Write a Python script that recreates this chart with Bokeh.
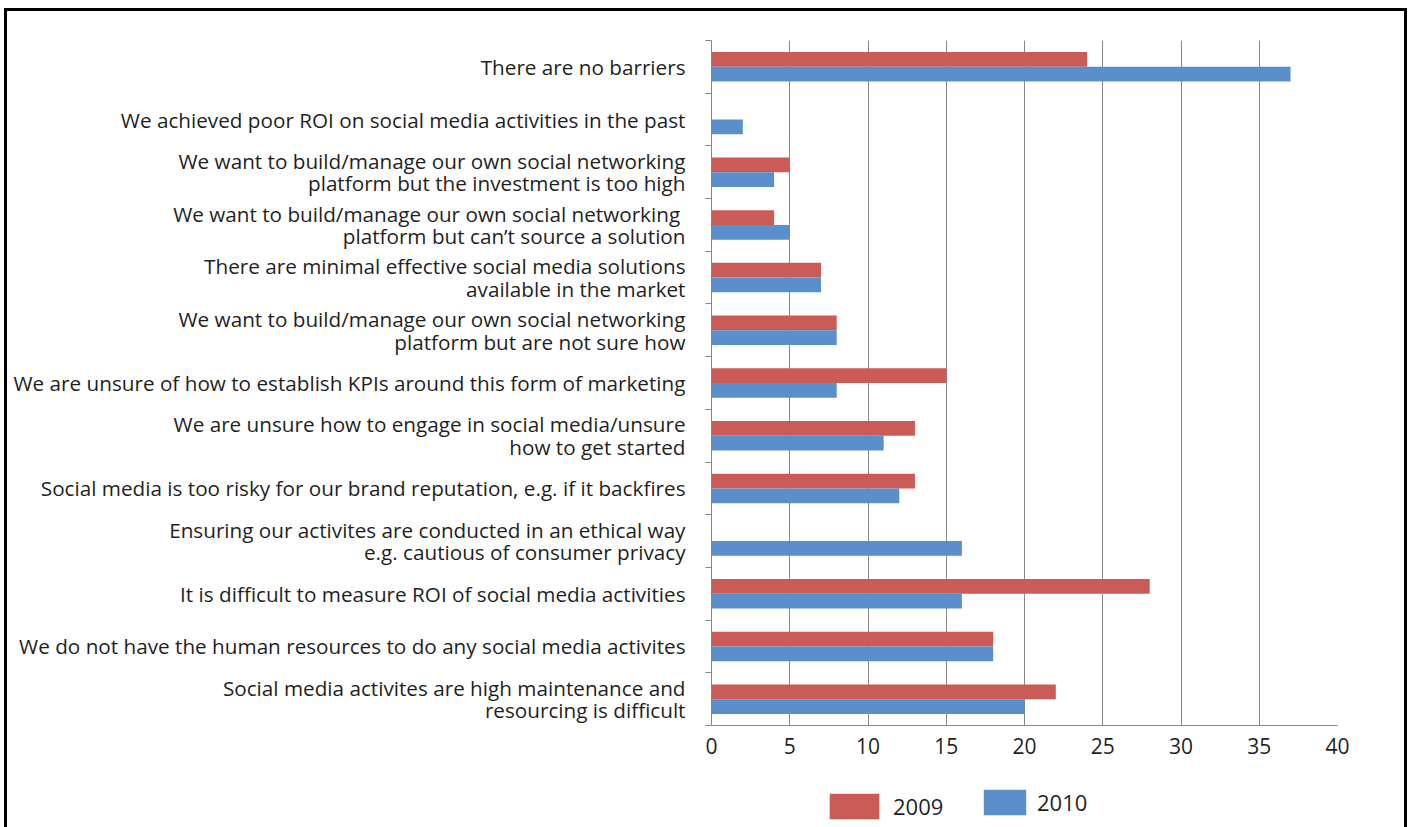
from bokeh.plotting import figure
from bokeh.layouts import column
from bokeh.models import Range1d, FixedTicker, Legend, LegendItem, ColumnDataSource, InlineStyleSheet
from bokeh.embed import file_html
from bokeh.resources import INLINE

categories = [
    "There are no barriers",
    "We achieved poor ROI on social media activities in the past",
    "We want to build/manage our own social networking\nplatform but the investment is too high",
    "We want to build/manage our own  social networking\nplatform but can\u2019t source a solution",
    "There are minimal effective social media solutions\navailable in the market",
    "We want to build/manage our own social networking\nplatform but are not sure how",
    "We are unsure of how to establish KPIs around this form of marketing",
    "We are unsure how to engage in social media/unsure\nhow to get started",
    "Social media is too risky for our brand reputation, e.g. if it backfires",
    "Ensuring our activites are conducted in an ethical way\ne.g. cautious of consumer privacy",
    "It is difficult to measure ROI of social media activities",
    "We do not have the human resources to do any social media activites",
    "Social media activites are high maintenance and\nresourcing is difficult",
]
values_2009 = [24, 0, 5, 4, 7, 8, 15, 13, 13, 0, 28, 18, 22]
values_2010 = [37, 2, 4, 5, 7, 8, 8, 11, 12, 16, 16, 18, 20]
series_names = ["2009", "2010"]
series_colors = ["#CB5B56", "#5A8FCB"]
x_ticks = [0, 5, 10, 15, 20, 25, 30, 35, 40]

n = len(categories)
idx = list(range(n))
bar_h = 0.28
src = ColumnDataSource(dict(
    y09=[i - bar_h / 2 for i in idx],
    y10=[i + bar_h / 2 for i in idx],
    v09=values_2009,
    v10=values_2010,
))

FONT = "Open Sans"
GRAY = "#878787"
TXT = "#1f1f1f"

p = figure(width=1411, height=770, output_backend="svg", toolbar_location=None,
           x_range=Range1d(0, 40), y_range=Range1d(n - 0.5, -0.5),
           min_border_left=711, min_border_right=74, min_border_top=40, min_border_bottom=45)
p.outline_line_color = None
p.border_fill_alpha = 0

r09 = p.hbar(y="y09", right="v09", left=0, height=bar_h, source=src,
             fill_color=series_colors[0], line_color=None)
r10 = p.hbar(y="y10", right="v10", left=0, height=bar_h, source=src,
             fill_color=series_colors[1], line_color=None)

# y axis (category labels at band centres, ticks at band boundaries)
p.yaxis.ticker = FixedTicker(ticks=idx, minor_ticks=[i - 0.5 for i in range(n + 1)])
p.yaxis.major_label_overrides = {i: c for i, c in zip(idx, categories)}
p.yaxis.major_tick_out = 0
p.yaxis.major_tick_in = 0
p.yaxis.minor_tick_out = 6
p.yaxis.minor_tick_in = 0
p.yaxis.minor_tick_line_color = GRAY
p.yaxis.axis_line_color = GRAY
p.yaxis.major_label_standoff = 20
p.yaxis.major_label_text_font = FONT
p.yaxis.major_label_text_font_size = "20.7px"
p.yaxis.major_label_text_line_height = 0.8
p.yaxis.major_label_text_color = TXT

# x axis
p.xaxis.ticker = FixedTicker(ticks=x_ticks)
p.xaxis.major_tick_out = 0
p.xaxis.major_tick_in = 0
p.xaxis.minor_tick_out = 0
p.xaxis.minor_tick_in = 0
p.xaxis.axis_line_color = GRAY
p.xaxis.major_label_standoff = 12
p.xaxis.major_label_text_font = FONT
p.xaxis.major_label_text_font_size = "21px"
p.xaxis.major_label_text_color = TXT

p.xgrid.ticker = FixedTicker(ticks=x_ticks)
p.xgrid.grid_line_color = GRAY
p.ygrid.grid_line_color = None

# legend strip below the chart (its frame is aligned with the chart frame);
# the key renderers are zero-width bars that only supply the legend swatches
lg = figure(width=1411, height=57, output_backend="svg", toolbar_location=None,
            x_range=Range1d(0, 1), y_range=Range1d(0, 1),
            x_axis_type=None, y_axis_type=None, min_border=0)
lg.outline_line_color = None
lg.border_fill_alpha = 0
lg.background_fill_alpha = 0
lg.grid.grid_line_color = None
k09 = lg.hbar(y=[5], right=[0], left=0, height=0.5, fill_color=series_colors[0], line_color=None)
k10 = lg.hbar(y=[5], right=[0], left=0, height=0.5, fill_color=series_colors[1], line_color=None)

common = dict(padding=0, margin=0, border_line_color=None, background_fill_alpha=0,
              label_text_font=FONT, label_text_font_size="22px", label_text_color=TXT,
              glyph_height=32)
leg1 = Legend(items=[LegendItem(label=series_names[0], renderers=[k09])],
              location=(112, 5), glyph_width=62, label_standoff=8, **common)
leg2 = Legend(items=[LegendItem(label=series_names[1], renderers=[k10])],
              location=(267, 9), glyph_width=53, label_standoff=6, **common)
lg.add_layout(leg1)
lg.add_layout(leg2)

css = InlineStyleSheet(css="""
:host::after {
  content: '';
  position: absolute;
  left: 4px;
  top: 8px;
  width: 1403px;
  height: 819px;
  box-sizing: border-box;
  border: 3px solid #000;
  border-bottom: none;
  pointer-events: none;
  z-index: 10;
}
""")
layout = column(p, lg, spacing=0, stylesheets=[css])

open("out.html", "w").write(file_html(layout, INLINE))
